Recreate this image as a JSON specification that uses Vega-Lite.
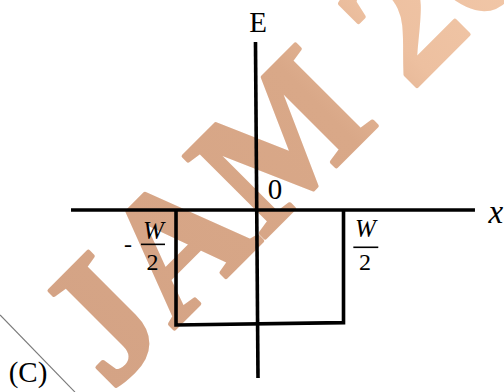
{
  "$schema": "https://vega.github.io/schema/vega-lite/v6.json",
  "width": 504,
  "height": 392,
  "padding": 0,
  "autosize": {"type": "none"},
  "background": "#ffffff",
  "config": {"view": {"stroke": null}},
  "datasets": {
    "watermark": [{"label": "JAM 2023", "x": -1.75, "y": -1.61}],
    "edge": [{"i": 0, "x": -3.071, "y": -0.929}, {"i": 1, "x": -2.179, "y": -1.611}],
    "axes": [
      {"seg": "h", "i": 0, "x": -2.226, "y": 0},
      {"seg": "h", "i": 1, "x": 2.583, "y": 0},
      {"seg": "v", "i": 0, "x": -0.03, "y": 1.487},
      {"seg": "v", "i": 1, "x": 0.0, "y": -1.487}
    ],
    "well": [
      {"i": 0, "x": -0.976, "y": 0},
      {"i": 1, "x": -0.976, "y": -1.018},
      {"i": 2, "x": 1.018, "y": -0.997},
      {"i": 3, "x": 1.018, "y": 0}
    ],
    "bars": [
      {"seg": "L", "i": 0, "x": -1.393, "y": -0.304},
      {"seg": "L", "i": 1, "x": -1.107, "y": -0.304},
      {"seg": "R", "i": 0, "x": 1.135, "y": -0.33},
      {"seg": "R", "i": 1, "x": 1.432, "y": -0.33}
    ],
    "labels": [
      {"kind": "big", "text": "E", "x": 0.0, "y": 1.659},
      {"kind": "big", "text": "0", "x": 0.202, "y": 0.177},
      {"kind": "big", "text": "(C)", "x": -2.738, "y": -1.442},
      {"kind": "frac", "text": "-", "x": -1.548, "y": -0.31},
      {"kind": "fracital", "text": "W", "x": -1.244, "y": -0.186},
      {"kind": "frac", "text": "2", "x": -1.256, "y": -0.473},
      {"kind": "fracital", "text": "W", "x": 1.28, "y": -0.164},
      {"kind": "frac", "text": "2", "x": 1.274, "y": -0.465}
    ],
    "xlabel": [{"text": "x", "x": 2.83, "y": -0.115}]
  },
  "layer": [
    {
      "data": {"name": "watermark"},
      "mark": {"type": "text", "angle": -45, "align": "left", "baseline": "alphabetic", "fontSize": 176, "font": "Liberation Serif", "fontWeight": "bold", "strokeWidth": 4, "strokeJoin": "round",
        "fill": {"gradient": "linear", "x1": 0, "y1": 0, "x2": 1, "y2": 0, "stops": [{"offset": 0, "color": "#d4a385"}, {"offset": 0.45, "color": "#d9a888"}, {"offset": 0.58, "color": "#edc0a0"}, {"offset": 1, "color": "#f8d2b4"}]},
        "stroke": {"gradient": "linear", "x1": 0, "y1": 0, "x2": 1, "y2": 0, "stops": [{"offset": 0, "color": "#d4a385"}, {"offset": 0.45, "color": "#d9a888"}, {"offset": 0.58, "color": "#edc0a0"}, {"offset": 1, "color": "#f8d2b4"}]}},
      "encoding": {
        "x": {"field": "x", "type": "quantitative", "scale": {"domain": [-3.0714, 2.9286], "nice": false, "zero": false}, "axis": null},
        "y": {"field": "y", "type": "quantitative", "scale": {"domain": [-1.6106, 1.8584], "nice": false, "zero": false}, "axis": null},
        "text": {"field": "label"}
      }
    },
    {
      "data": {"name": "edge"},
      "mark": {"type": "line", "color": "#7a7a7a", "strokeWidth": 1.2},
      "encoding": {
        "x": {"field": "x", "type": "quantitative"},
        "y": {"field": "y", "type": "quantitative"},
        "order": {"field": "i"}
      }
    },
    {
      "data": {"name": "axes"},
      "mark": {"type": "line", "color": "#000000", "strokeWidth": 3.6},
      "encoding": {
        "x": {"field": "x", "type": "quantitative"},
        "y": {"field": "y", "type": "quantitative"},
        "detail": {"field": "seg"},
        "order": {"field": "i"}
      }
    },
    {
      "data": {"name": "well"},
      "mark": {"type": "line", "color": "#000000", "strokeWidth": 3.6, "strokeJoin": "miter"},
      "encoding": {
        "x": {"field": "x", "type": "quantitative"},
        "y": {"field": "y", "type": "quantitative"},
        "order": {"field": "i"}
      }
    },
    {
      "data": {"name": "bars"},
      "mark": {"type": "line", "color": "#000000", "strokeWidth": 1.6},
      "encoding": {
        "x": {"field": "x", "type": "quantitative"},
        "y": {"field": "y", "type": "quantitative"},
        "detail": {"field": "seg"},
        "order": {"field": "i"}
      }
    },
    {
      "data": {"name": "labels"},
      "transform": [{"filter": "datum.kind === 'big'"}],
      "mark": {"type": "text", "font": "Liberation Serif", "fontSize": 29, "color": "#000000", "align": "center", "baseline": "middle"},
      "encoding": {
        "x": {"field": "x", "type": "quantitative"},
        "y": {"field": "y", "type": "quantitative"},
        "text": {"field": "text"}
      }
    },
    {
      "data": {"name": "labels"},
      "transform": [{"filter": "datum.kind === 'frac'"}],
      "mark": {"type": "text", "font": "Liberation Serif", "fontSize": 24, "color": "#000000", "align": "center", "baseline": "middle"},
      "encoding": {
        "x": {"field": "x", "type": "quantitative"},
        "y": {"field": "y", "type": "quantitative"},
        "text": {"field": "text"}
      }
    },
    {
      "data": {"name": "labels"},
      "transform": [{"filter": "datum.kind === 'fracital'"}],
      "mark": {"type": "text", "font": "Liberation Serif", "fontStyle": "italic", "fontSize": 25, "color": "#000000", "align": "center", "baseline": "middle"},
      "encoding": {
        "x": {"field": "x", "type": "quantitative"},
        "y": {"field": "y", "type": "quantitative"},
        "text": {"field": "text"}
      }
    },
    {
      "data": {"name": "xlabel"},
      "mark": {"type": "text", "font": "Liberation Serif", "fontStyle": "italic", "fontSize": 33, "color": "#000000", "align": "center", "baseline": "alphabetic"},
      "encoding": {
        "x": {"field": "x", "type": "quantitative"},
        "y": {"field": "y", "type": "quantitative"},
        "text": {"field": "text"}
      }
    }
  ]
}
